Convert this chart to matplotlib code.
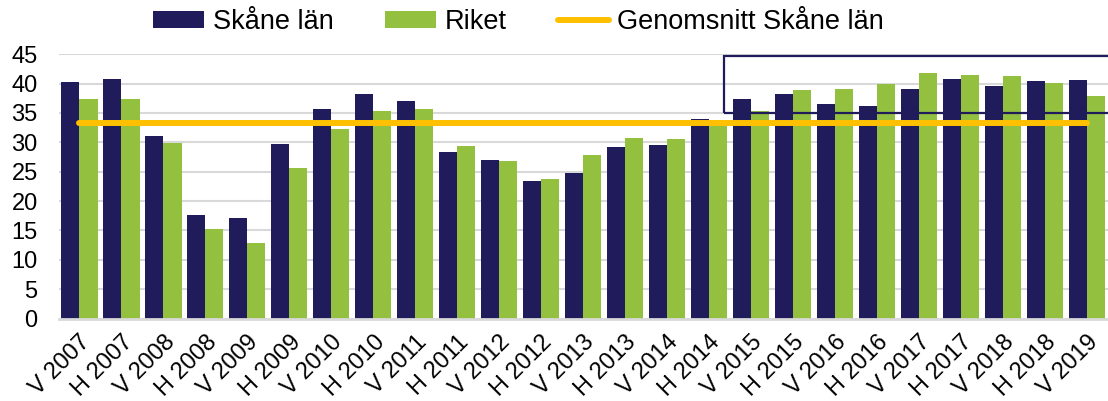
import matplotlib.pyplot as plt
import numpy as np
from matplotlib.patches import Rectangle

plt.rcParams['font.family'] = ['Liberation Sans', 'DejaVu Sans']

# halvår
perioder = ['V 2007', 'H 2007', 'V 2008', 'H 2008', 'V 2009', 'H 2009',
            'V 2010', 'H 2010', 'V 2011', 'H 2011', 'V 2012', 'H 2012',
            'V 2013', 'H 2013', 'V 2014', 'H 2014', 'V 2015', 'H 2015',
            'V 2016', 'H 2016', 'V 2017', 'H 2017', 'V 2018', 'H 2018',
            'V 2019']

skane = [40.3, 40.7, 31.0, 17.7, 17.1, 29.7, 35.7, 38.2, 37.0, 28.4,
         27.0, 23.4, 24.8, 29.2, 29.6, 33.9, 37.4, 38.2, 36.6, 36.1,
         39.0, 40.8, 39.5, 40.4, 40.6]

riket = [37.4, 37.3, 29.8, 15.2, 12.8, 25.7, 32.3, 35.3, 35.6, 29.3,
         26.8, 23.8, 27.8, 30.8, 30.6, 33.2, 35.3, 38.9, 39.1, 40.0,
         41.8, 41.5, 41.3, 40.1, 37.9]

genomsnitt = 33.2

# markerad ruta (V 2015 - V 2019, 35-45)
ruta_x0 = 15.35
ruta_y0 = 35.0
ruta_y1 = 44.7

navy = '#201B5B'
green = '#93C13F'
yellow = '#FFC000'

fig = plt.figure(figsize=(11.08, 4.01), dpi=100)
ax = fig.add_axes([0.0528, 0.2055, 0.9472, 0.6595])

x = np.arange(len(perioder))
w = 0.43
b1 = ax.bar(x - w / 2, skane, w, color=navy, label='Skåne län', zorder=2)
b2 = ax.bar(x + w / 2, riket, w, color=green, label='Riket', zorder=2)
l1, = ax.plot(x, [genomsnitt] * len(x), color=yellow, lw=4.3,
              solid_capstyle='round', label='Genomsnitt Skåne län', zorder=3)

ax.add_patch(Rectangle((ruta_x0, ruta_y0), len(x) + 1 - ruta_x0, ruta_y1 - ruta_y0,
                       fill=False, edgecolor=navy, lw=1.6, zorder=4, clip_on=True))

ax.set_xlim(-0.5, len(x) - 0.5)
ax.set_ylim(0, 45)
ax.set_yticks(range(0, 46, 5))
ax.yaxis.grid(True, color='#D9D9D9', lw=1.5, zorder=0)
ax.set_axisbelow(True)
for s in ['top', 'right', 'left']:
    ax.spines[s].set_visible(False)
ax.spines['bottom'].set_color('#D9D9D9')
ax.spines['bottom'].set_linewidth(2)
ax.tick_params(axis='both', length=0, labelsize=17)
ax.tick_params(axis='y', pad=15)
ax.set_xticks(x)
ax.set_xticklabels(perioder, rotation=45, ha='right', rotation_mode='anchor')
ax.tick_params(axis='x', pad=9)

fig.legend([b1, b2, l1], ['Skåne län', 'Riket', 'Genomsnitt Skåne län'],
           loc='center', bbox_to_anchor=(0.468, 0.945), ncol=3, frameon=False,
           fontsize=19.5, handlelength=1.9, handleheight=0.6, handletextpad=0.3,
           columnspacing=1.9, borderpad=0)

fig.savefig('out.png', dpi=100)
